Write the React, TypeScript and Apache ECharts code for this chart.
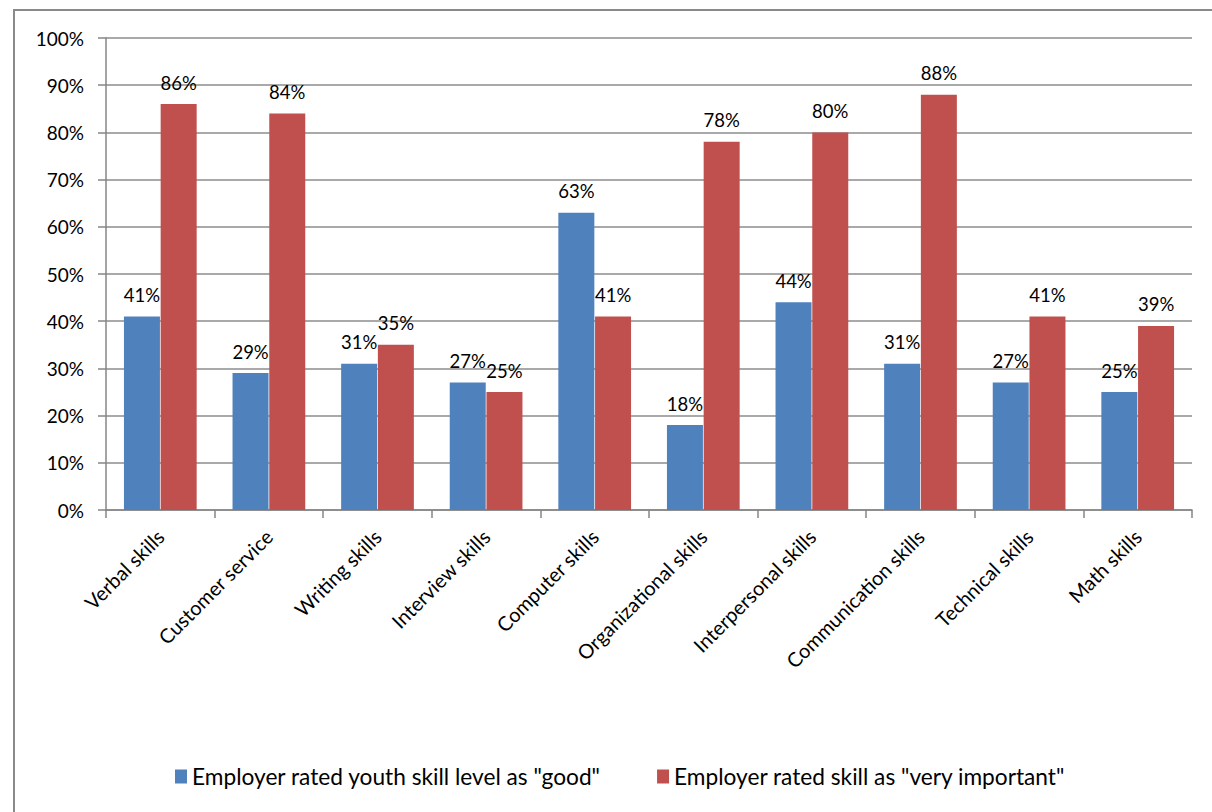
import React, { useEffect, useRef } from "react";
import * as echarts from "echarts";

const categories = [
  "Verbal skills",
  "Customer service",
  "Writing skills",
  "Interview skills",
  "Computer skills",
  "Organizational skills",
  "Interpersonal skills",
  "Communication skills",
  "Technical skills",
  "Math skills",
];
const goodValues = [41, 29, 31, 27, 63, 18, 44, 31, 27, 25];
const importantValues = [86, 84, 35, 25, 41, 78, 80, 88, 41, 39];
const seriesNames = [
  'Employer rated youth skill level as "good"',
  'Employer rated skill as "very important"',
];

const FONT = "Lato";

export default function App() {
  const ref = useRef<HTMLDivElement>(null);
  useEffect(() => {
    document.body.style.margin = "0";
    const chart = echarts.init(ref.current!, null, { renderer: "svg" });
    const label = {
      show: true,
      position: "top",
      distance: 12,
      formatter: (p: any) => p.value + "%",
      color: "#000",
      fontFamily: FONT,
      fontSize: 18.5,
    };
    chart.setOption({
      animation: false,
      backgroundColor: "#fff",
      textStyle: { fontFamily: FONT },
      graphic: [
        {
          type: "rect",
          shape: { x: 14, y: 10, width: 1300, height: 900 },
          style: { fill: "none", stroke: "#8a8a8a", lineWidth: 2 },
          silent: true,
        },
      ],
      grid: { left: 106, right: 20, top: 38, bottom: 302, containLabel: false },
      legend: {
        bottom: 19,
        left: 170,
        itemWidth: 12,
        itemHeight: 14,
        itemGap: 56,
        icon: "rect",
        textStyle: { fontFamily: FONT, fontSize: 22.7, color: "#000" },
        data: seriesNames,
      },
      xAxis: {
        type: "category",
        data: categories,
        axisLine: { lineStyle: { color: "#868686", width: 1.5 } },
        axisTick: { show: true, length: 8, lineStyle: { color: "#868686", width: 1.5 } },
        axisLabel: {
          rotate: 45,
          interval: 0,
          margin: 23,
          color: "#000",
          fontFamily: FONT,
          fontSize: 20,
        },
      },
      yAxis: {
        type: "value",
        min: 0,
        max: 100,
        interval: 10,
        axisLine: { show: true, lineStyle: { color: "#868686", width: 1.5 } },
        axisTick: { show: true, length: 8, lineStyle: { color: "#868686", width: 1.5 } },
        axisLabel: {
          formatter: "{value}%",
          margin: 22,
          color: "#000",
          fontFamily: FONT,
          fontSize: 19,
        },
        splitLine: { lineStyle: { color: "#8c8c8c", width: 1.5 } },
      },
      series: [
        {
          name: seriesNames[0],
          type: "bar",
          data: goodValues,
          barWidth: 36,
          barGap: "2%",
          itemStyle: { color: "#4F81BD" },
          label,
        },
        {
          name: seriesNames[1],
          type: "bar",
          data: importantValues,
          barWidth: 36,
          barGap: "2%",
          itemStyle: { color: "#C0504D" },
          label,
        },
      ],
    });
    return () => chart.dispose();
  }, []);
  return <div ref={ref} style={{ width: 1212, height: 812 }} />;
}
